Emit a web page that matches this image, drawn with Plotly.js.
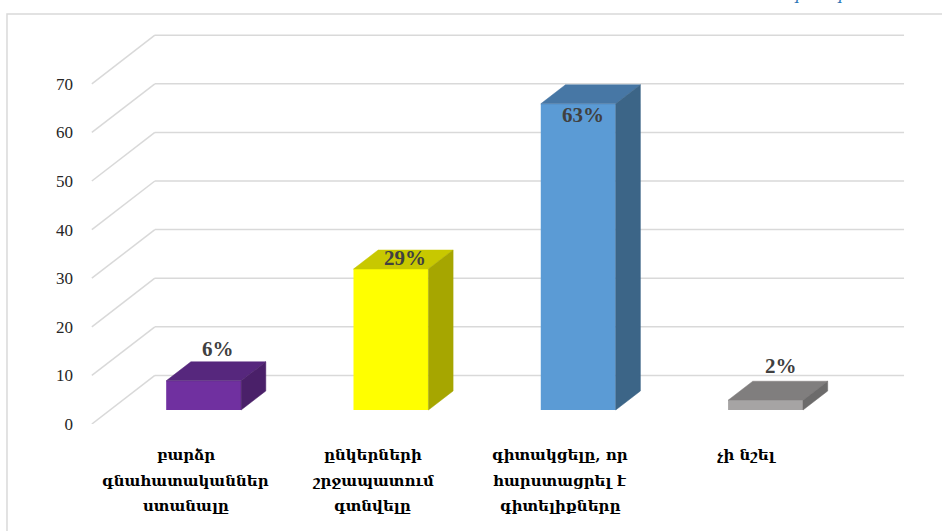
<!DOCTYPE html>
<html>
<head>
<meta charset="utf-8">
<script src="https://cdn.plot.ly/plotly-3.0.1.min.js"></script>
<style>html,body{margin:0;padding:0;background:#fff;}#chart{width:942px;height:531px;}</style>
</head>
<body>
<div id="chart"></div>
<script>
// ---- data ----
const categoryLines = [
  ["բարձր", "գնահատականներ", "ստանալը"],
  ["ընկերների", "շրջապատում", "գտնվելը"],
  ["գիտակցելը, որ", "հարստացրել է", "գիտելիքները"],
  ["չի նշել"]
];
const values = [6, 29, 63, 2];
const valueLabels = ["6%", "29%", "63%", "2%"];
const yTicks = [0, 10, 20, 30, 40, 50, 60, 70];
const cutTopText = ["ր", "ր"];

// ---- styles ----
const frontColors = ["#7030A0", "#FFFF00", "#5B9BD5", "#A6A4A4"];
const topColors   = ["#56277D", "#C8C800", "#4777A5", "#807E7E"];
const sideColors  = ["#4A2069", "#A6A600", "#3C6587", "#6C6B6B"];
const labelXShift = [2, 2, -8, 3];
const labelYShift = [22, 2, -21, 25];
const cutTopX = [0.8434, 0.8933];

// pseudo-3D projection (depth d in [0,1])
const K = 63 / 187.3;   // x units per unit depth
const DV = 10;          // value units per unit depth
const d0 = 0.288, d1 = 0.68, hw = 0.2;
const P = (x, v, d) => [x + K * d, v + DV * d];

const n = values.length;
const xLo = -0.5, xHi = n - 0.5;

// gridlines (side wall diagonals + back wall horizontals)
const shapes = [];
yTicks.forEach(v => {
  const a = P(xLo, v, 0), b = P(xLo, v, 1), c = P(xHi, v, 1);
  const line = {color: "#D9D9D9", width: 1.5};
  shapes.push({type: "line", xref: "x", yref: "y", layer: "below", x0: a[0], y0: a[1], x1: b[0], y1: b[1], line});
  shapes.push({type: "line", xref: "x", yref: "y", layer: "below", x0: b[0], y0: b[1], x1: c[0], y1: c[1], line});
});
// outer chart frame
shapes.push({type: "rect", xref: "paper", yref: "paper", layer: "below",
  x0: -0.0847, y0: -0.6, x1: 1.2, y1: 1.0, line: {color: "#D9D9D9", width: 1.5}});

const traces = [];
// front faces: real bars
traces.push({
  type: "bar",
  x: values.map((v, i) => i + K * d0),
  y: values,
  base: DV * d0,
  width: 2 * hw,
  marker: {color: frontColors, line: {width: 0}},
  hoverinfo: "skip",
  showlegend: false
});
// top and side faces
values.forEach((v, i) => {
  const xl = i - hw, xr = i + hw;
  const top = [P(xl, v, d0), P(xr, v, d0), P(xr, v, d1), P(xl, v, d1), P(xl, v, d0)];
  const side = [P(xr, 0, d0), P(xr, v, d0), P(xr, v, d1), P(xr, 0, d1), P(xr, 0, d0)];
  [[top, topColors[i]], [side, sideColors[i]]].forEach(([poly, col]) => {
    traces.push({
      type: "scatter", mode: "lines", fill: "toself", fillcolor: col,
      x: poly.map(p => p[0]), y: poly.map(p => p[1]),
      line: {color: col, width: 0.5},
      hoverinfo: "skip", showlegend: false
    });
  });
});

const annotations = [];
// value labels
values.forEach((v, i) => {
  const m = P(i, v, (d0 + d1) / 2);
  annotations.push({
    x: m[0], y: m[1], xref: "x", yref: "y", text: valueLabels[i], showarrow: false,
    xshift: labelXShift[i], yshift: labelYShift[i],
    font: {family: "Liberation Serif, DejaVu Serif, serif", size: 21, color: "#404040", weight: "bold"}
  });
});
// category labels (one annotation per line)
categoryLines.forEach((lines, i) => {
  lines.forEach((t, k) => {
    annotations.push({
      x: i, y: 0, xref: "x", yref: "paper", yanchor: "middle", text: t, showarrow: false,
      yshift: -(31 + 25.5 * k),
      font: {family: "DejaVu Serif, Noto Sans, DejaVu Sans, serif", size: 15, color: "#000000", weight: "bold"}
    });
  });
});
// cut-off text at the very top of the picture
cutTopText.forEach((t, i) => {
  annotations.push({
    x: cutTopX[i], y: 1, xref: "paper", yref: "paper", yanchor: "bottom", text: "<i>" + t + "</i>",
    showarrow: false, yshift: 9,
    font: {family: "DejaVu Serif, serif", size: 16, color: "#2E75B6"}
  });
});

const layout = {
  width: 942, height: 531,
  margin: {l: 80, r: 0, t: 14, b: 107},
  paper_bgcolor: "#FFFFFF", plot_bgcolor: "rgba(0,0,0,0)",
  showlegend: false,
  xaxis: {range: [-0.5633, 4.039], showgrid: false, zeroline: false, showline: false,
          showticklabels: false, ticks: "", fixedrange: true},
  yaxis: {range: [0, 84.36], tickvals: yTicks, ticktext: yTicks.map(String),
          showgrid: false, zeroline: false, showline: false, ticks: "",
          ticklabelstandoff: 6,
          tickfont: {family: "Liberation Serif, DejaVu Serif, serif", size: 17, color: "#262626"},
          fixedrange: true},
  shapes: shapes,
  annotations: annotations
};

Plotly.newPlot("chart", traces, layout, {displayModeBar: false, staticPlot: true});
</script>
</body>
</html>
